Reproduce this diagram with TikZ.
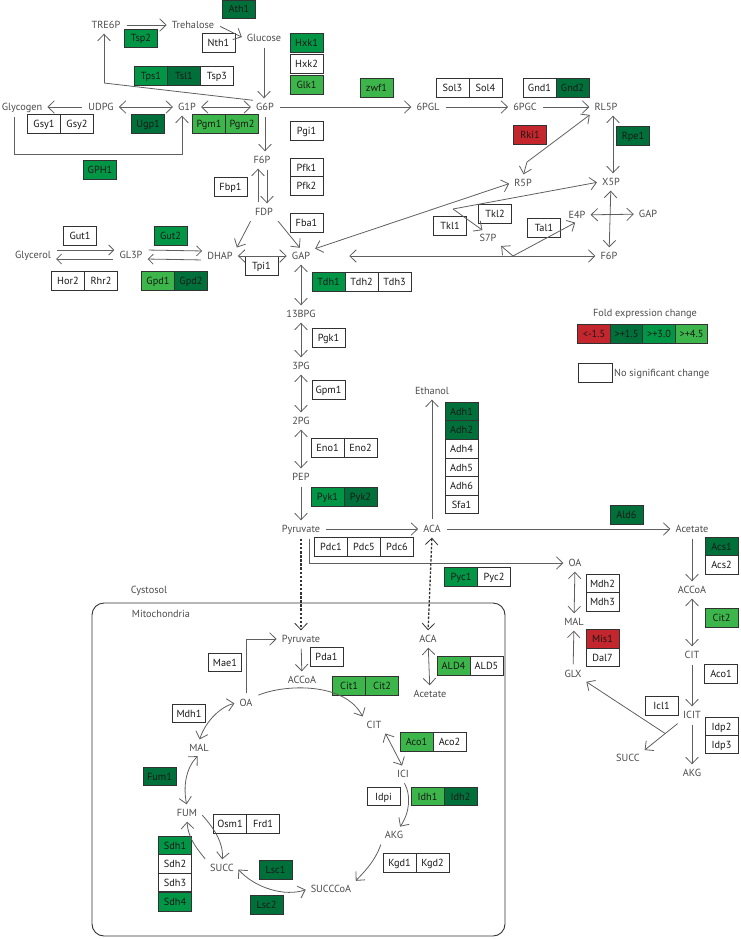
\documentclass[tikz,border=0pt]{standalone}
\usepackage{fontspec}
\setmainfont{PT Sans}
\usetikzlibrary{arrows.meta,calc}
\definecolor{dk}{RGB}{0,112,58}
\definecolor{md}{RGB}{0,150,70}
\definecolor{lt}{RGB}{60,182,74}
\definecolor{rd}{RGB}{196,38,46}
\definecolor{lc}{RGB}{95,95,95}
\definecolor{tc}{RGB}{75,75,75}
\definecolor{bc}{RGB}{50,50,50}
\definecolor{et}{RGB}{25,25,25}
\begin{document}
\begin{tikzpicture}[x=1pt,y=-1pt,
 >={Straight Barb[length=6.5pt,width=12.5pt,line width=0.8pt]},
 met/.style={inner sep=3pt, text height=7pt, text depth=0pt, text=tc, font=\fontsize{10.3}{12}\selectfont},
 enz/.style={draw=bc, line width=0.8pt, fill=white, minimum width=33pt, minimum height=18.5pt, inner sep=0pt, text height=7pt, text depth=0pt, text=et, font=\fontsize{10.3}{12}\selectfont},
 ln/.style={draw=lc, line width=0.8pt},
 arr/.style={ln, ->, shorten >=2pt, shorten <=3pt},
 arr2/.style={ln, <->, shorten >=2pt, shorten <=2pt},
 harp/.style={ln, -{Straight Barb[length=5pt,width=10pt,line width=0.8pt]}, shorten >=2pt, shorten <=3pt},
 dsh/.style={draw=bc, line width=1.3pt, dash pattern=on 2.5pt off 1.6pt},
]
\useasboundingbox (0,0) rectangle (740,939);

% mitochondrion
\draw[draw=bc, line width=0.9pt, rounded corners=12pt] (92,603) rectangle (505,936);

% ---------- metabolites ----------
\node[met] (tre6p) at (106,25) {TRE6P};
\node[met] (treh) at (193,25) {Trehalose};
\node[met] (gluc) at (264,38) {Glucose};
\node[met] (glycogen) at (22,107) {Glycogen};
\node[met] (udpg) at (101,107) {UDPG};
\node[met] (g1p) at (187,107) {G1P};
\node[met] (g6p) at (265,107) {G6P};
\node[met] (pgl) at (428,107) {6PGL};
\node[met] (pgc) at (525,107) {6PGC};
\node[met] (rl5p) at (606,107) {RL5P};
\node[met] (f6p) at (262,160) {F6P};
\node[met] (fdp) at (264,212) {FDP};
\node[met] (r5p) at (523,183) {R5P};
\node[met] (x5p) at (611,182) {X5P};
\node[met] (gapr) at (648,214) {GAP};
\node[met] (e4p) at (577,215) {E4P};
\node[met] (s7p) at (488,238) {S7P};
\node[met] (f6pr) at (609,256) {F6P};
\node[met] (glycerol) at (33,255) {Glycerol};
\node[met] (gl3p) at (131,255) {GL3P};
\node[met] (dhap) at (220,256) {DHAP};
\node[met] (gap) at (301,256) {GAP};
\node[met] (bpg) at (301,314) {13BPG};
\node[met] (pg3) at (301,366) {3PG};
\node[met] (pg2) at (301,421) {2PG};
\node[met] (pep) at (301,477) {PEP};
\node[met] (pyr) at (301,529) {Pyruvate};
\node[met] (aca) at (432,529) {ACA};
\node[met] (ethanol) at (432,391) {Ethanol};
\node[met] (acetate) at (692,529) {Acetate};
\node[met] (oa) at (575,563) {OA};
\node[met] (accoa) at (692,590) {ACCoA};
\node[met] (cit) at (692,655) {CIT};
\node[met] (icit) at (692,715) {ICIT};
\node[met] (akg) at (692,773) {AKG};
\node[met] (succr) at (628,758) {SUCC};
\node[met] (glx) at (573,674) {GLX};
\node[met] (malr) at (574,622) {MAL};

\node[met] (cytosol) at (149,590) {Cystosol};
\node[met] (mitolab) at (161,614) {Mitochondria};
\node[met] (mpyr) at (301,639) {Pyruvate};
\node[met] (maccoa) at (302,680) {ACCoA};
\node[met] (moa) at (246,703) {OA};
\node[met] (mcit) at (374,725) {CIT};
\node[met] (mici) at (403,774) {ICI};
\node[met] (makg) at (394,835) {AKG};
\node[met] (msucccoa) at (331,889) {SUCCCoA};
\node[met] (msucc) at (222,868) {SUCC};
\node[met] (mfum) at (187,813) {FUM};
\node[met] (mmal) at (199,748) {MAL};
\node[met] (maca) at (428,639) {ACA};
\node[met] (macetate) at (430,694) {Acetate};

% ---------- enzymes ----------
\node[enz, fill=dk] (ath1) at (239,9.5) {Ath1};
\node[enz, fill=md] (tsp2) at (141,38.5) {Tsp2};
\node[enz] (nth1) at (218.5,43) {Nth1};
\node[enz, fill=md] (hxk1) at (306.5,43) {Hxk1};
\node[enz] (hxk2) at (306.5,64) {Hxk2};
\node[enz, fill=lt] (glk1) at (306.5,85) {Glk1};
\node[enz, fill=md] (tps1) at (151,76) {Tps1};
\node[enz, fill=dk] (tsl1) at (184,76) {Tsl1};
\node[enz] (tsp3) at (217,76) {Tsp3};
\node[enz, fill=lt] (zwf1) at (376.5,88) {zwf1};
\node[enz] (sol3) at (452.5,88) {Sol3};
\node[enz] (sol4) at (485.5,88) {Sol4};
\node[enz] (gnd1) at (539.5,88) {Gnd1};
\node[enz, fill=dk] (gnd2) at (572.5,88) {Gnd2};
\node[enz] (gsy1) at (44,124) {Gsy1};
\node[enz] (gsy2) at (77,124) {Gsy2};
\node[enz, fill=dk] (ugp1) at (148,124) {Ugp1};
\node[enz, fill=lt] (pgm1) at (209,124) {Pgm1};
\node[enz, fill=lt] (pgm2) at (242,124) {Pgm2};
\node[enz] (pgi1) at (306.5,131) {Pgi1};
\node[enz, fill=rd] (rki1) at (530,135) {Rki1};
\node[enz, fill=dk] (rpe1) at (633,136) {Rpe1};
\node[enz, fill=md] (gph1) at (100,170) {GPH1};
\node[enz] (pfk1) at (306.5,167.5) {Pfk1};
\node[enz] (pfk2) at (306.5,186) {Pfk2};
\node[enz] (fbp1) at (230.5,187) {Fbp1};
\node[enz] (fba1) at (306.5,223) {Fba1};
\node[enz] (gut1) at (80,236) {Gut1};
\node[enz, fill=md] (gut2) at (170.5,236) {Gut2};
\node[enz] (tkl1) at (450,226) {Tkl1};
\node[enz] (tkl2) at (495,214) {Tkl2};
\node[enz] (tal1) at (544,228) {Tal1};
\node[enz] (hor2) at (68,281) {Hor2};
\node[enz] (rhr2) at (101,281) {Rhr2};
\node[enz, fill=lt] (gpd1) at (158,281) {Gpd1};
\node[enz, fill=dk] (gpd2) at (191,281) {Gpd2};
\node[enz] (tpi1) at (261.5,266) {Tpi1};
\node[enz, fill=md] (tdh1) at (328.5,282) {Tdh1};
\node[enz] (tdh2) at (361.5,282) {Tdh2};
\node[enz] (tdh3) at (394.5,282) {Tdh3};
\node[enz] (pgk1) at (328.5,338) {Pgk1};
\node[enz] (gpm1) at (328.5,390) {Gpm1};
\node[enz] (eno1) at (327.5,448) {Eno1};
\node[enz] (eno2) at (360.5,448) {Eno2};
\node[enz, fill=md] (pyk1) at (327.5,497) {Pyk1};
\node[enz, fill=dk] (pyk2) at (360.5,497) {Pyk2};
\node[enz, fill=dk] (adh1) at (461.5,412) {Adh1};
\node[enz, fill=dk] (adh2) at (461.5,430) {Adh2};
\node[enz] (adh4) at (461.5,449) {Adh4};
\node[enz] (adh5) at (461.5,467.5) {Adh5};
\node[enz] (adh6) at (461.5,486) {Adh6};
\node[enz] (sfa1) at (461.5,504.5) {Sfa1};
\node[enz] (pdc1) at (331,547) {Pdc1};
\node[enz] (pdc5) at (364,547) {Pdc5};
\node[enz] (pdc6) at (397,547) {Pdc6};
\node[enz, fill=dk] (ald6) at (626.5,515) {Ald6};
\node[enz, fill=dk] (acs1) at (721.5,547) {Acs1};
\node[enz] (acs2) at (721.5,565) {Acs2};
\node[enz, fill=md] (pyc1) at (461,577) {Pyc1};
\node[enz] (pyc2) at (494,577) {Pyc2};
\node[enz] (mdh2) at (602.5,584) {Mdh2};
\node[enz] (mdh3) at (602.5,602) {Mdh3};
\node[enz, fill=lt] (cit2r) at (721.5,618) {Cit2};
\node[enz, fill=rd] (mis1) at (602.5,639) {Mis1};
\node[enz] (dal7) at (602.5,657.5) {Dal7};
\node[enz] (aco1r) at (721,674) {Aco1};
\node[enz] (icl1) at (661.5,706) {Icl1};
\node[enz] (idp2) at (721.5,726.5) {Idp2};
\node[enz] (idp3) at (721.5,744.5) {Idp3};

\node[enz] (mae1) at (225,662.5) {Mae1};
\node[enz] (pda1) at (326.5,657) {Pda1};
\node[enz, fill=lt] (cit1) at (349,686) {Cit1};
\node[enz, fill=lt] (cit2) at (382,686) {Cit2};
\node[enz, fill=lt] (ald4) at (453.5,666) {ALD4};
\node[enz] (ald5) at (486.5,666) {ALD5};
\node[enz] (mdh1) at (189,713.5) {Mdh1};
\node[enz, fill=lt] (aco1) at (416.5,742) {Aco1};
\node[enz] (aco2) at (449.5,742) {Aco2};
\node[enz, fill=dk] (fum1) at (159.5,776.5) {Fum1};
\node[enz] (idpi) at (383.5,796.5) {Idpi};
\node[enz, fill=lt] (idh1) at (427.5,796.5) {Idh1};
\node[enz, fill=dk] (idh2) at (460.5,796.5) {Idh2};
\node[enz] (osm1) at (230,824) {Osm1};
\node[enz] (frd1) at (263,824) {Frd1};
\node[enz, fill=md] (sdh1) at (175,845.5) {Sdh1};
\node[enz] (sdh2) at (175,864) {Sdh2};
\node[enz] (sdh3) at (175,882.5) {Sdh3};
\node[enz, fill=md] (sdh4) at (175,902) {Sdh4};
\node[enz] (kgd1) at (399.5,863) {Kgd1};
\node[enz] (kgd2) at (432.5,863) {Kgd2};
\node[enz, fill=dk] (lsc1) at (275.5,870) {Lsc1};
\node[enz, fill=dk] (lsc2) at (266.5,905) {Lsc2};

% legend
\node[met] (lgtitle) at (645,313) {Fold expression change};
\node[enz, fill=rd, minimum width=32.5pt] (lg1) at (594,334) {<-1.5};
\node[enz, fill=dk, minimum width=32.5pt] (lg2) at (626.5,334) {>+1.5};
\node[enz, fill=md, minimum width=32.5pt] (lg3) at (659,334) {>+3.0};
\node[enz, fill=lt, minimum width=32.5pt] (lg4) at (691.5,334) {>+4.5};
\node[enz, minimum width=34pt, minimum height=19pt] (lgw) at (595,372.5) {};
\node[met, anchor=west, inner sep=0pt] (lgtext) at (614,373) {No significant change};

% ---------- connectors: top ----------
\draw[arr] (tre6p) -- (treh);
\draw[arr] (treh.east) -- (gluc.west);
\draw[arr] (gluc.south) -- (gluc.south |- g6p.north);
\draw[arr] (udpg) -- (glycogen);
\draw[arr2] (udpg) -- (g1p);
\draw[arr2] (g1p) -- (g6p);
\coordinate (j1) at (104,83);
\draw[arr, shorten <=0pt] (j1) -- (j1 |- tre6p.south);
\draw[ln] (j1) -- (g6p.north west);
\coordinate (bkl) at (14,154);
\coordinate (bkr) at (182,154);
\draw[arr] (glycogen.south -| bkl) -- (bkl) -- (bkr) -- (bkr |- g1p.south);
\draw[arr] (g6p) -- (pgl);
\draw[arr] (pgl) -- (pgc);
\draw[arr] (pgc) -- (rl5p);
\draw[arr] (g6p.south) -- (g6p.south |- f6p.north);
\draw[arr] ([xshift=-6pt]fdp.north) -- ([xshift=-6pt]fdp.north |- f6p.south);
\draw[arr] ([xshift=5pt]f6p.south) -- ([xshift=5pt]f6p.south |- fdp.north);
\draw[arr] (fdp.south east) -- (gap.north);
\draw[arr] (fdp.south west) -- (dhap.north east);
\draw[arr2] (dhap) -- (gap);
\draw[harp] ([yshift=5pt]glycerol.east) -- ([yshift=5pt]gl3p.west);
\draw[harp] ([yshift=-4pt]gl3p.west) -- ([yshift=-4pt]glycerol.east);
\draw[harp] ([yshift=5pt]gl3p.east) -- ([yshift=5pt]dhap.west);
\draw[harp] ([yshift=-4pt]dhap.west) -- ([yshift=-4pt]gl3p.east);

% glycolysis
\draw[arr2] (gap) -- (bpg);
\draw[arr2] (bpg) -- (pg3);
\draw[arr2] (pg3) -- (pg2);
\draw[arr2] (pg2) -- (pep);
\draw[arr] (pep) -- (pyr);
\draw[arr] (pyr) -- (aca);
\draw[arr] (aca) -- (ethanol);
\draw[arr] (aca) -- (acetate);
\draw[arr] ([xshift=8pt]pyr.south) |- (oa.west);
\draw[dsh, ->, shorten >=2pt, shorten <=3pt] (pyr.south) -- (mpyr.north);
\draw[dsh, <->, shorten >=2pt, shorten <=2pt] (aca.south) -- (maca.north);

% right branch
\draw[arr] (acetate) -- (accoa);
\draw[arr2] (accoa) -- (cit);
\draw[arr] (cit) -- (icit);
\draw[arr] (icit) -- (akg);
\draw[arr] (icit.south west) -- (succr.north east);
\coordinate (j3) at ($(icit.south west)!0.4!(succr.north east)$);
\draw[arr, shorten <=0pt] (j3) -- (glx.south east);
\draw[arr] (glx) -- (malr);
\draw[arr2] (oa) -- (malr);

% pentose phosphate
\draw[arr2] ([xshift=7pt]rl5p.south) -- ([xshift=7pt]rl5p.south |- x5p.north);
\coordinate (j4) at (527,162);
\draw[arr2] (rl5p.south west) -- (j4) -- (r5p.north);
\draw[arr2] (gap.north east) -- (r5p.west);
\coordinate (j5) at (453,209);
\draw[arr, shorten <=0pt] (j5) -- (x5p.west);
\draw[arr, shorten <=0pt] (j5) -- ([xshift=-4pt]s7p.north);
\draw[arr2, shorten <=36pt] (gap.east) -- (f6pr.west);
\coordinate (j6) at (513,256);
\draw[arr, shorten <=0pt] (j6) -- (e4p.south);
\draw[arr, shorten <=0pt] (j6) -- (s7p.south east);
\draw[arr2] (e4p) -- (gapr);
\draw[arr2] (x5p) -- (f6pr);

% mitochondria
\draw[arr] (mpyr) -- (maccoa);
\draw[arr] (moa.north) |- (mpyr.west);
\draw[arr] (moa.north east) .. controls (285,684) and (345,682) .. (mcit.north west);
\draw[arr2] (moa.west) .. controls (222,706) and (206,720) .. (mmal.north);
\draw[arr2] (mmal.south) .. controls (186,768) and (183,786) .. (mfum.north);
\draw[arr] (mfum.east) .. controls (212,826) and (224,842) .. (msucc.north);
\draw[arr] (msucc.north west) .. controls (200,852) and (188,840) .. (mfum.south);
\draw[arr2] (msucc.east) .. controls (255,888) and (285,897) .. (msucccoa.west);
\draw[arr] (makg.south west) .. controls (375,862) and (362,874) .. (msucccoa.north east);
\draw[arr] (mici.south) .. controls (411,795) and (410,812) .. ([xshift=5pt]makg.north);
\draw[arr2] (mcit.south east) -- (mici.north);
\draw[arr2] (maca) -- (macetate);
\end{tikzpicture}
\end{document}
